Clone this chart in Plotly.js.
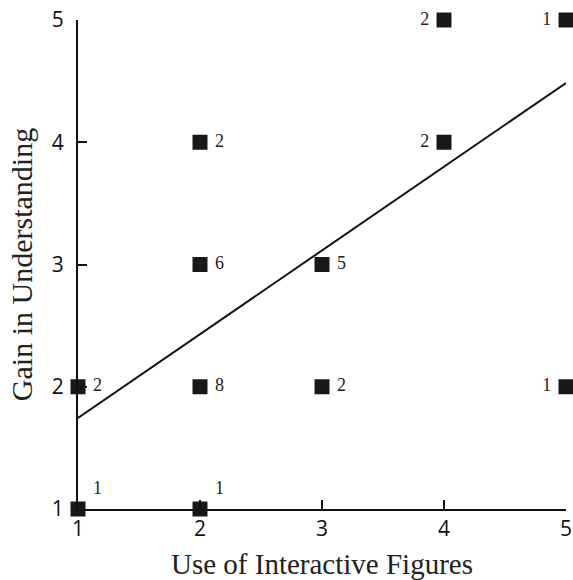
<!DOCTYPE html>
<html>
<head>
<meta charset="utf-8">
<script src="https://cdn.plot.ly/plotly-3.0.1.min.js"></script>
<style>html,body{margin:0;padding:0;background:#fff;}</style>
</head>
<body>
<div id="chart" style="width:573px;height:580px;"></div>
<script>
var useX = [1, 2, 1, 2, 2, 2, 3, 3, 4, 4, 5, 5];
var gainY = [1, 1, 2, 2, 3, 4, 3, 2, 5, 4, 5, 2];
var counts = ['1', '1', '2', '8', '6', '2', '5', '2', '2', '2', '1', '1'];
var labelPos = ['top right', 'top right', 'middle right', 'middle right', 'middle right', 'middle right',
                'middle right', 'middle right', 'middle left', 'middle left', 'middle left', 'middle left'];
var fitX = [1, 5];
var fitY = [1.745, 4.485];
var xTicks = [1, 2, 3, 4, 5];
var yTicks = [1, 2, 3, 4, 5];

var padded = counts.map(function (c, i) {
  return labelPos[i].indexOf('left') >= 0 ? c + '\u2005' : '\u2005' + c;
});

var traces = [
  {
    x: fitX, y: fitY, type: 'scatter', mode: 'lines',
    line: {color: '#111', width: 2}, hoverinfo: 'skip', cliponaxis: false
  },
  {
    x: useX, y: gainY, type: 'scatter', mode: 'markers+text',
    text: padded, textposition: labelPos,
    textfont: {family: 'Liberation Serif, serif', size: 18, color: '#222'},
    marker: {symbol: 'square', size: 15, color: '#1a1718'},
    cliponaxis: false
  }
];

var layout = {
  width: 573, height: 580,
  margin: {l: 78, r: 7, t: 20, b: 71},
  showlegend: false,
  paper_bgcolor: '#fff', plot_bgcolor: '#fff',
  xaxis: {
    range: [1, 5], tickvals: xTicks, ticktext: xTicks.map(String),
    showgrid: false, zeroline: false, showline: true, linecolor: '#111', linewidth: 2,
    ticks: 'inside', ticklen: 9, tickwidth: 2, tickcolor: '#111',
    tickfont: {family: 'Open Sans, sans-serif', size: 21, color: '#111'},
    title: {text: 'Use of Interactive Figures', font: {family: 'Liberation Serif, serif', size: 29, color: '#222'}, standoff: 14}
  },
  yaxis: {
    range: [1, 5], tickvals: yTicks, ticktext: yTicks.map(String),
    showgrid: false, zeroline: false, showline: true, linecolor: '#111', linewidth: 2,
    ticks: 'inside', ticklen: 9, tickwidth: 2, tickcolor: '#111',
    ticklabelstandoff: 8,
    tickfont: {family: 'Open Sans, sans-serif', size: 21, color: '#111'},
    title: {text: 'Gain in Understanding', font: {family: 'Liberation Serif, serif', size: 30, color: '#222'}, standoff: 10}
  }
};

Plotly.newPlot('chart', traces, layout, {displayModeBar: false, staticPlot: true});
</script>
</body>
</html>
